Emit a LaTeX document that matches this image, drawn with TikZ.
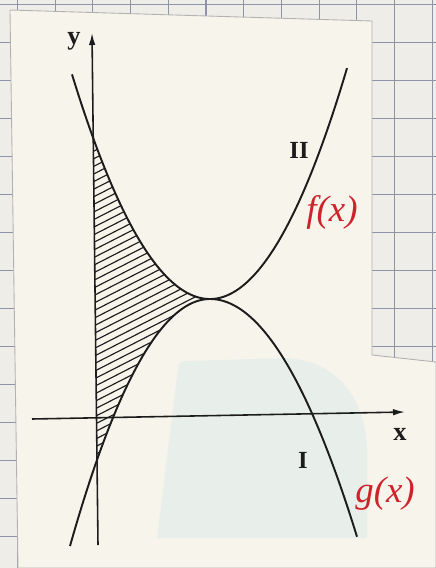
\documentclass[tikz,border=0pt]{standalone}
\usepackage{fontspec}
\setmainfont{Liberation Serif}
\usetikzlibrary{arrows.meta}
\definecolor{gridbg}{HTML}{EFEDE8}
\definecolor{gridln}{HTML}{8F93A8}
\definecolor{paper}{HTML}{F7F4EC}
\definecolor{refl}{HTML}{E8EFEB}
\definecolor{pen}{HTML}{D0222B}
\definecolor{ink}{HTML}{1C1C1C}
\tikzset{
  axis/.style={draw=ink, line width=0.9pt, -{Latex[length=2.4mm,width=1.3mm]}},
  curve/.style={draw=ink, line width=1.1pt},
  hatchline/.style={draw=ink, line width=0.65pt},
  lab/.style={font=\bfseries\fontsize{15}{15}\selectfont, text=ink, inner sep=0pt},
  roman/.style={font=\bfseries\fontsize{14}{14}\selectfont, text=ink, inner sep=0pt},
  hand/.style={font=\itshape\fontsize{21}{21}\selectfont, text=pen, inner sep=0pt},
}
\begin{document}
\begin{tikzpicture}[x=0.02cm, y=-0.02cm]
\useasboundingbox (0,0) rectangle (436,568);
% grid paper background
\fill[gridbg] (0,0) rectangle (436,568);
\foreach \k in {0,...,11} \draw[gridln, line width=0.6pt] ({17.5+37.7*\k},0) -- ({17.5+37.7*\k},568);
\foreach \k in {0,...,14} \draw[gridln, line width=0.6pt] (0,{4.5+38*\k}) -- (436,{4.5+38*\k});
% paper
\fill[paper, draw=gray!60, line width=0.5pt] (10,10) -- (372,21) -- (372,355) -- (436,362) -- (436,568) -- (18,568) -- cycle;
% light reflection
\fill[refl] (157,538) -- (178,368) .. controls (179,362) and (181,361) .. (188,361) -- (285,358) .. controls (338,360) and (366,400) .. (367,450) -- (367,538) -- cycle;
% hatching
\begin{scope}
\clip plot[domain=-117:0, samples=60] ({210+\x},{299-0.0118*(\x)*(\x)}) -- plot[domain=0:-113, samples=60] ({210+\x},{299+0.0126*(\x)*(\x)}) -- cycle;
\foreach \k in {0,...,80} \draw[hatchline] (60,{100+7.6*\k}) -- (240,{100+7.6*\k-92});
\end{scope}
% axes
\coordinate (yb) at (98,545);
\coordinate (yt) at (92,33);
\coordinate (xl) at (32,419);
\coordinate (xr) at (405,412);
\draw[axis] (yb) -- (yt);
\draw[axis] (xl) -- (xr);
% curves
\draw[curve] plot[domain=-138:0, samples=80] ({210+\x},{299-0.0118*(\x)*(\x)}) -- plot[domain=0:137, samples=80] ({210+\x},{299-0.0123*(\x)*(\x)});
\draw[curve] plot[domain=-140:0, samples=80] ({210+\x},{299+0.0126*(\x)*(\x)}) -- plot[domain=0:147, samples=80] ({210+\x},{299+0.0110*(\x)*(\x)});
% labels
\node[lab] (ly) at (74,41) {y};
\node[lab] (lx) at (400,434) {x};
\node[roman] (lII) at (299,150) {II};
\node[roman] (lI) at (303,460) {I};
\node[hand] (lf) at (332,212) {f(x)};
\node[hand] (lg) at (385,494) {g(x)};
\end{tikzpicture}
\end{document}
